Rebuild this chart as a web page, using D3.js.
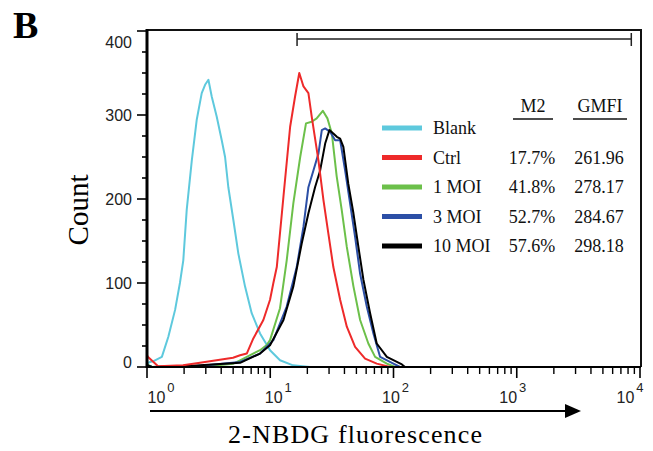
<!DOCTYPE html>
<html>
<head>
<meta charset="utf-8">
<script src="https://cdn.jsdelivr.net/npm/d3@7"></script>
<style>
  body { margin: 0; background: #fff; }
  svg { display: block; }
</style>
</head>
<body>
<svg width="653" height="451"></svg>
<script>
// histogram traces, [fluorescence, count]
var blankData = [[1.0,4],[1.06,6],[1.13,7],[1.32,12],[1.49,36],[1.69,68],[1.85,100],[1.97,127],[2.10,187],[2.31,246],[2.53,294],[2.78,326],[2.96,336],[3.15,342],[3.35,322],[3.68,298],[4.04,270],[4.30,250],[4.57,214],[5.02,175],[5.51,135],[6.24,96],[7.07,64],[8.26,40],[9.96,20],[12.0,8],[15.3,2],[21,0],[10000,0]];
var ctrlData = [[1.0,14],[1.02,12],[1.23,1],[1.96,2],[2.69,5],[4.99,11],[5.69,14],[6.45,16],[7.29,34],[8.79,56],[9.96,80],[10.6,100],[11.3,119],[12.8,203],[14.5,286],[15.9,322],[17.2,350],[18.6,334],[20.4,326],[21.7,298],[24.6,246],[27.0,199],[29.6,159],[32.5,119],[36.9,80],[41.8,48],[48.8,24],[58.8,10],[73.1,4],[93.8,0],[10000,0]];
var moi1Data = [[1.0,3],[1.1,0],[3.05,1],[5.02,4],[5.69,8],[8.26,20],[9.37,26],[9.96,32],[12.0,70],[13.6,127],[15.4,195],[17.5,250],[19.5,290],[21.7,292],[23.8,296],[26.7,305],[29.1,296],[31.6,278],[34.6,227],[38.0,187],[41.8,143],[47.3,96],[53.6,56],[62.5,28],[70.9,12],[88.3,4],[103,0],[10000,0]];
var moi3Data = [[1.0,2],[1.1,0],[2.5,1],[5.69,6],[8.26,16],[10.6,32],[13.6,72],[16.4,119],[18.6,167],[20.4,214],[22.4,234],[24.6,254],[26.2,282],[27.9,284],[30.6,280],[33.6,270],[36.9,270],[40.5,234],[44.4,195],[48.8,155],[53.6,111],[60.7,72],[68.7,40],[77.9,12],[99.8,4],[113,0],[10000,0]];
var moi10Data = [[1.0,2],[1.1,0],[2.0,1],[5.69,5],[8.26,16],[9.96,26],[12.8,56],[15.4,96],[18.0,147],[20.4,183],[23.1,214],[25.4,234],[27.9,266],[30.2,282],[32.5,278],[34.7,274],[36.9,272],[39.2,262],[43.0,218],[47.3,183],[51.9,143],[57.0,104],[64.6,64],[73.1,28],[88.3,12],[117,3],[124,0],[10000,0]];

var seriesNames = ["Blank", "Ctrl", "1 MOI", "3 MOI", "10 MOI"];
var seriesColors = ["#5ec9dd", "#ee2a2a", "#6cc04a", "#2c4fa6", "#000000"];
var m2Values = ["", "17.7%", "41.8%", "52.7%", "57.6%"];
var gmfiValues = ["", "261.96", "278.17", "284.67", "298.18"];
var yTicks = [0, 100, 200, 300, 400];
var xTickExps = [0, 1, 2, 3, 4];
var gateRange = [16.5, 8500];

var allData = [blankData, ctrlData, moi1Data, moi3Data, moi10Data];
var drawOrder = [0, 2, 3, 4, 1];

var svg = d3.select("svg");
var serif = "'Liberation Serif', 'Times New Roman', serif";
var sans = "'Liberation Sans', Arial, sans-serif";

var x = d3.scaleLog().domain([1, 10000]).range([147, 640]);
var y = d3.scaleLinear().domain([0, 400]).range([367, 31]);

// panel letter
svg.append("text").attr("x", 13).attr("y", 38)
  .style("font-family", serif).style("font-weight", "bold").style("font-size", "38px")
  .text("B");

// frame top + right
svg.append("path")
  .attr("d", "M" + x(1) + "," + 30 + "H" + (x(10000) + 1) + "V" + y(0))
  .attr("fill", "none").attr("stroke", "#111").attr("stroke-width", 2);

// curves
var line = d3.line().x(function(d) { return x(d[0]); }).y(function(d) { return y(d[1]); });
var g = svg.append("g");
drawOrder.forEach(function(i) {
  g.append("path").datum(allData[i])
    .attr("d", line)
    .attr("fill", "none")
    .attr("stroke", seriesColors[i])
    .attr("stroke-width", 2)
    .attr("stroke-linejoin", "round");
});

// y axis
var yMinor = d3.range(0, 401, 25).filter(function(v) { return v % 100 !== 0; });
var yAx = svg.append("g").attr("transform", "translate(" + x(1) + ",0)");
yAx.append("line").attr("y1", 29).attr("y2", y(0) + 1).attr("stroke", "#000").attr("stroke-width", 3);
yAx.selectAll(".mj").data(yTicks).enter().append("line")
  .attr("x1", -10).attr("x2", 0).attr("y1", y).attr("y2", y)
  .attr("stroke", "#000").attr("stroke-width", 1.6);
yAx.selectAll(".mn").data(yMinor).enter().append("line")
  .attr("x1", -5).attr("x2", 0).attr("y1", y).attr("y2", y)
  .attr("stroke", "#000").attr("stroke-width", 1.6);
yAx.selectAll("text").data(yTicks).enter().append("text")
  .attr("x", -15)
  .attr("y", function(d) { return y(d) + (d === 400 ? 11 : d === 0 ? -5 : 0); })
  .attr("dy", "0.36em")
  .attr("text-anchor", "end")
  .style("font-family", sans).style("font-size", "16px").style("fill", "#222")
  .text(function(d) { return d; });

// x axis
var xMinor = [];
[1, 10, 100, 1000].forEach(function(b) {
  for (var k = 2; k <= 9; k++) xMinor.push(b * k);
});
var xAx = svg.append("g").attr("transform", "translate(0," + y(0) + ")");
xAx.append("line").attr("x1", x(1) - 1).attr("x2", x(10000) + 1).attr("stroke", "#000").attr("stroke-width", 2);
xAx.selectAll(".mj").data(xTickExps).enter().append("line")
  .attr("x1", function(d) { return x(Math.pow(10, d)); })
  .attr("x2", function(d) { return x(Math.pow(10, d)); })
  .attr("y1", 0).attr("y2", 11)
  .attr("stroke", "#000").attr("stroke-width", 1.6);
xAx.selectAll(".mn").data(xMinor).enter().append("line")
  .attr("x1", x).attr("x2", x)
  .attr("y1", 0).attr("y2", 7)
  .attr("stroke", "#000").attr("stroke-width", 1.4);

var labelPos = d3.scaleLinear().domain([0, 4]).range([161, 630]);
var xl = svg.append("g").selectAll("text").data(xTickExps).enter().append("text")
  .attr("x", function(d) { return labelPos(d); })
  .attr("y", 403)
  .attr("text-anchor", "middle")
  .style("font-family", sans).style("font-size", "16px").style("fill", "#222");
xl.append("tspan").text("10");
xl.append("tspan").attr("dx", 2).attr("dy", -11).style("font-size", "13px").text(function(d) { return d; });

// arrow under x axis
svg.append("line").attr("x1", 150).attr("x2", 568).attr("y1", 411).attr("y2", 411)
  .attr("stroke", "#000").attr("stroke-width", 2);
svg.append("path").attr("d", "M565,404L581,411L565,418Z").attr("fill", "#000");

// axis titles
svg.append("text").attr("x", 355).attr("y", 443)
  .attr("text-anchor", "middle").attr("textLength", 254)
  .style("font-family", serif).style("font-size", "26px")
  .text("2-NBDG fluorescence");
svg.append("text")
  .attr("transform", "translate(88,210) rotate(-90)")
  .attr("text-anchor", "middle")
  .style("font-family", serif).style("font-size", "29px")
  .text("Count");

// M2 gate marker
var gy = 39;
svg.append("path")
  .attr("d", "M" + x(gateRange[0]) + "," + (gy - 6) + "V" + (gy + 7) +
             "M" + x(gateRange[0]) + "," + gy + "H" + x(gateRange[1]) +
             "M" + x(gateRange[1]) + "," + (gy - 6) + "V" + (gy + 7))
  .attr("fill", "none").attr("stroke", "#222").attr("stroke-width", 1.5);

// legend + stats table
var rowY = d3.scaleLinear().domain([0, 4]).range([128, 246]);
var leg = svg.append("g");
var txt = function(sel) {
  return sel.style("font-family", serif).style("font-size", "18px").style("fill", "#111");
};
txt(leg.append("text").attr("x", 533).attr("y", 112).attr("text-anchor", "middle").text("M2"));
txt(leg.append("text").attr("x", 600).attr("y", 112).attr("text-anchor", "middle").text("GMFI"));
leg.append("line").attr("x1", 513).attr("x2", 553).attr("y1", 119).attr("y2", 119).attr("stroke", "#111").attr("stroke-width", 1.6);
leg.append("line").attr("x1", 573).attr("x2", 627).attr("y1", 119).attr("y2", 119).attr("stroke", "#111").attr("stroke-width", 1.6);

seriesNames.forEach(function(name, i) {
  var ry = rowY(i);
  leg.append("line").attr("x1", 382).attr("x2", 422).attr("y1", ry).attr("y2", ry)
    .attr("stroke", seriesColors[i]).attr("stroke-width", 5);
  txt(leg.append("text").attr("x", 433).attr("y", ry + 6).text(name));
  txt(leg.append("text").attr("x", 532).attr("y", ry + 6).attr("text-anchor", "middle").text(m2Values[i]));
  txt(leg.append("text").attr("x", 599).attr("y", ry + 6).attr("text-anchor", "middle").text(gmfiValues[i]));
});
</script>
</body>
</html>
